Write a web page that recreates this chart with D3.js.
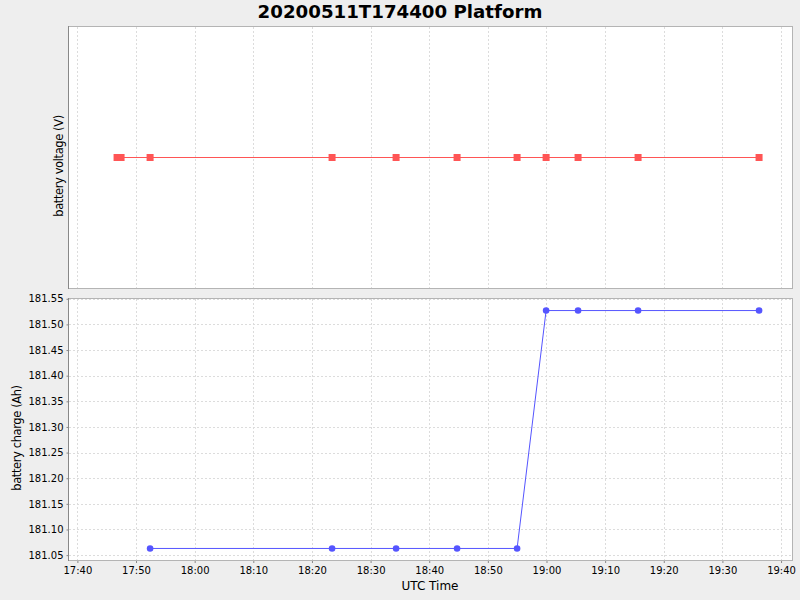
<!DOCTYPE html>
<html>
<head>
<meta charset="utf-8">
<script src="https://cdn.jsdelivr.net/npm/d3@7"></script>
<style>
  body { margin: 0; background: #eeeeee; }
  text { font-family: "DejaVu Sans", sans-serif; }
  .grid line { stroke: #dcdcdc; stroke-dasharray: 2,2; }
</style>
</head>
<body>
<svg id="graph"></svg>
<script>
// data (UTC, 2020-05-11)
var voltageTimes = ["17:46:46", "17:47:27", "17:52:24", "18:23:26", "18:34:21", "18:44:45",
                    "18:54:59", "18:59:56", "19:05:23", "19:15:37", "19:36:15"];
var voltageValues = [24.0, 24.0, 24.0, 24.0, 24.0, 24.0, 24.0, 24.0, 24.0, 24.0, 24.0];

var chargeTimes = ["17:52:24", "18:23:26", "18:34:21", "18:44:45", "18:54:59",
                   "18:59:56", "19:05:23", "19:15:37", "19:36:15"];
var chargeValues = [181.063, 181.063, 181.063, 181.063, 181.063,
                    181.527, 181.527, 181.527, 181.527];

var chargeTicks = [181.05, 181.10, 181.15, 181.20, 181.25, 181.30, 181.35, 181.40, 181.45, 181.50, 181.55];

var title = "20200511T174400 Platform";

var parseT = function(s) { return new Date("2020-05-11T" + s + "Z"); };
var voltage = voltageTimes.map(function(t, i) { return {t: parseT(t), v: voltageValues[i]}; });
var charge = chargeTimes.map(function(t, i) { return {t: parseT(t), v: chargeValues[i]}; });

var svg = d3.select("#graph")
    .attr("width", 800)
    .attr("height", 600);

svg.append("rect").attr("width", 800).attr("height", 600).attr("fill", "#eeeeee");

var left = 68, right = 792;
var top1 = 26, bot1 = 288, top2 = 298, bot2 = 560;

var x = d3.scaleUtc()
    .domain([parseT("17:38:24"), parseT("19:41:52")])
    .range([left, right]);

var yV = d3.scaleLinear().domain([23, 25]).range([bot1 + 1, top1]);
var yC = d3.scaleLinear().domain([181.0405, 181.5515]).range([bot2, top2]);

var xTicks = x.ticks(d3.utcMinute.every(10));

svg.append("text")
    .attr("x", 400).attr("y", 18)
    .attr("text-anchor", "middle")
    .attr("font-size", 18.2).attr("font-weight", "bold")
    .text(title);

function panel(y0, y1) {
    svg.append("rect")
        .attr("x", left + 0.5).attr("y", y0 + 0.5)
        .attr("width", right - left).attr("height", y1 - y0)
        .attr("fill", "#fff").attr("stroke", "#b4b4b4");
    svg.append("g").attr("class", "grid")
      .selectAll("line").data(xTicks)
      .enter().append("line")
        .attr("x1", function(d) { return Math.round(x(d)) + 0.5; })
        .attr("x2", function(d) { return Math.round(x(d)) + 0.5; })
        .attr("y1", y0 + 1).attr("y2", y1);
    svg.append("line")
        .attr("x1", left + 0.5).attr("x2", left + 0.5)
        .attr("y1", y0).attr("y2", y1 + 1)
        .attr("stroke", "#888");
}

// top panel: battery voltage
panel(top1, bot1);

var lineV = d3.line().x(function(d) { return x(d.t); }).y(function(d) { return yV(d.v); });
svg.append("path").datum(voltage)
    .attr("d", lineV).attr("fill", "none")
    .attr("stroke", "#ff5555").attr("stroke-width", 1);
svg.append("g").selectAll("rect").data(voltage)
  .enter().append("rect")
    .attr("x", function(d) { return x(d.t) - 3.5; })
    .attr("y", function(d) { return yV(d.v) - 3.5; })
    .attr("width", 7).attr("height", 7)
    .attr("fill", "#ff5555");

svg.append("text")
    .attr("transform", "translate(63,166) rotate(-90)")
    .attr("text-anchor", "middle")
    .attr("font-size", 11.5)
    .attr("letter-spacing", -0.4)
    .text("battery voltage (V)");

// bottom panel: battery charge
panel(top2, bot2);

svg.append("g").attr("class", "grid")
  .selectAll("line").data(chargeTicks)
  .enter().append("line")
    .attr("x1", left + 1).attr("x2", right)
    .attr("y1", function(d) { return Math.round(yC(d)) + 0.5; })
    .attr("y2", function(d) { return Math.round(yC(d)) + 0.5; });

var lineC = d3.line().x(function(d) { return x(d.t); }).y(function(d) { return yC(d.v); });
svg.append("path").datum(charge)
    .attr("d", lineC).attr("fill", "none")
    .attr("stroke", "#5555ff").attr("stroke-width", 1);
svg.append("g").selectAll("circle").data(charge)
  .enter().append("circle")
    .attr("cx", function(d) { return x(d.t); })
    .attr("cy", function(d) { return yC(d.v); })
    .attr("r", 3.3)
    .attr("fill", "#5555ff");

var yAxis = svg.append("g")
    .attr("transform", "translate(" + (left + 0.5) + ",0)")
    .call(d3.axisLeft(yC).tickValues(chargeTicks).tickFormat(d3.format(".2f")).tickSize(2).tickPadding(3));
yAxis.select(".domain").remove();
yAxis.selectAll("line").attr("stroke", "#888");
yAxis.selectAll("text").attr("font-size", 10).attr("font-family", "DejaVu Sans").attr("fill", "#000");

var xAxis = svg.append("g")
    .attr("transform", "translate(0," + (bot2 + 1) + ")")
    .call(d3.axisBottom(x).tickValues(xTicks).tickFormat(d3.utcFormat("%H:%M")).tickSize(2).tickPadding(4));
xAxis.select(".domain").remove();
xAxis.selectAll("line").attr("stroke", "#888");
xAxis.selectAll("text").attr("font-size", 10).attr("font-family", "DejaVu Sans").attr("fill", "#000");

svg.append("text")
    .attr("transform", "translate(21,438) rotate(-90)")
    .attr("text-anchor", "middle")
    .attr("font-size", 11.5)
    .attr("letter-spacing", -0.4)
    .text("battery charge (Ah)");

svg.append("text")
    .attr("x", 430).attr("y", 590)
    .attr("text-anchor", "middle")
    .attr("font-size", 12)
    .text("UTC Time");
</script>
</body>
</html>
